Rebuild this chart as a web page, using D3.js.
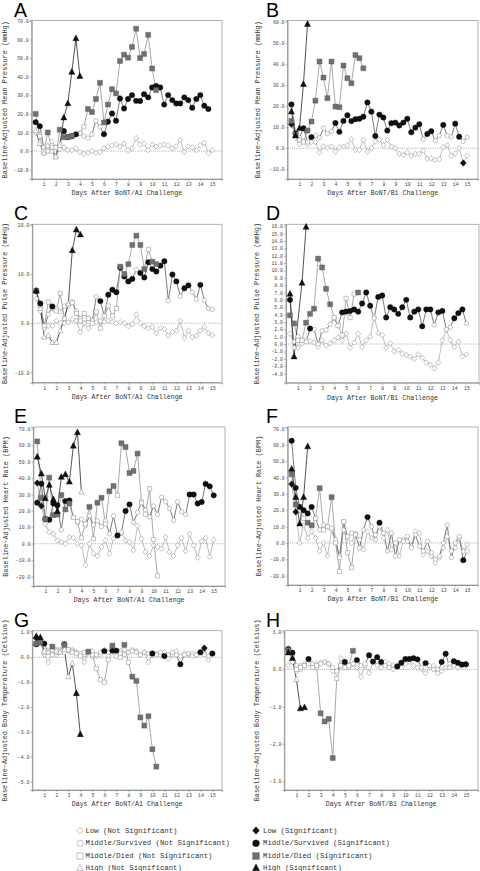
<!DOCTYPE html>
<html><head><meta charset="utf-8">
<script src="https://cdnjs.cloudflare.com/ajax/libs/d3/7.8.5/d3.min.js"></script>
<style>body{margin:0;background:#fff}svg{display:block}</style>
</head><body>
<svg id="c" width="480" height="871"></svg>
<script>
// ---------- DATA ----------
const days = [0.33,0.67,1.00,1.33,1.67,2.00,2.33,2.67,3.00,3.33,3.67,4.00,4.33,4.67,5.00,5.33,5.67,6.00,6.33,6.67,7.00,7.33,7.67,8.00,8.33,8.67,9.00,9.33,9.67,10.00,10.33,10.67,11.00,11.33,11.67,12.00,12.33,12.67,13.00,13.33,13.67,14.00,14.33,14.67,15.00];
const xTickLabels = [1,2,3,4,5,6,7,8,9,10,11,12,13,14,15];

// A: Mean pressure, BoNT/A1
const aLow  = [10,5,-1,2,5,2,1,2,0.5,0.5,1.5,-0.5,-1.5,-1,0,-1,-0.5,1.5,2.5,3,3.5,2.5,4,0.5,1.5,7,3.5,4,0.5,3.5,2.5,3,3.5,3,1.5,2.5,6,-0.5,2.5,2,0.5,3,4.5,-1,0.5];
const aLowSig = [];
const aSurv = [15.5,13.4,2,0,3,2,4,10.8,7.5,8,9,9.5,8,7,9,16.3,13,9.1,15.8,20.2,16.3,28.3,22.9,28,30.1,27,26.9,30.6,28.9,34.2,35,34.2,25,30.1,27.4,25.6,25.6,28.9,27.4,23.3,28,30.1,24.4,22.6];
const aSurvSig = [0,1,7,8,9,10,17,18,19,20,21,22,23,24,25,26,27,28,29,30,31,32,33,34,35,36,37,38,39,40,41,42,43];
const aDied = [20,8,0,10,2,-3,11.5,7.5,7.5,8,9,9.5,13,22.6,21,28,36.7,15.4,25,33.3,31,48.4,51.8,50.2,56,65.8,50,52.2,62.5,44.4,32.8];
const aDiedSig = [0,3,6,7,8,9,13,14,15,16,17,18,19,20,21,22,23,24,25,26,27,28,29,30];
const aHigh = [11,4,-1,3,0,-3,3,18,25.6,42.5,60.6,40.3];
const aHighSig = [7,8,9,10,11];

// B: Mean pressure, BoNT/B1
const bLow  = [11.4,5,2,3.5,2,3,3,-2,0.8,0.3,0.8,-1.6,0.5,0.8,1.3,4.3,-0.8,-0.8,4,-1.6,0.2,3.2,4,1.4,4,0.8,0,-2.7,-3.2,-1.9,-3.6,-2.7,-2.7,-1.1,-5,-4.8,-5.5,-5.2,0.5,1.4,-3.6,-2.5,0,-7,-3.5];
const bLowSig = [0,43];
const bSurv = [20.8,7,5,9.5,3,5.3,6,5,9.5,7,8,12,7.8,13,15.7,12.9,13.8,14,15,21.8,17.4,5.8,16,14.6,8.4,11.9,12.2,10.8,12.2,14,7.6,9.8,11.4,4.3,6.8,8.1,3.6,6,11.1,6,5.4,11.7,5.5,3.3,5.3];
const bSurvSig = [0,1,3,5,11,12,13,14,15,16,17,18,19,20,21,22,23,24,25,26,27,28,29,30,31,32,34,35,38,41,42];
const bDied = [13,6.5,4,3,8.4,12.7,22.6,41.2,33.6,23.8,41.2,19.8,19.5,39.3,33.3,30.9,44.3,42.8,38];
const bDiedSig = [0,1,4,5,6,7,8,9,10,11,12,13,14,15,16,17,18];
const bHigh = [17.4,6,9.5,30.4,59];
const bHighSig = [0,1,2,3,4];

// C: Pulse pressure, BoNT/A1
const cLow  = [5,2.5,-1,-0.5,-0.5,0.5,0,0,0.2,0.8,0.5,-1.8,0,-1,0.5,0.2,0.5,0.3,0.5,0.3,0,0.2,0,-0.6,-0.2,1.8,0,-0.6,-1,-0.8,-2,-1,-1.2,-2.5,-1.8,-1.5,0.5,-3,-1.5,-2.8,-2.5,-1.5,-0.8,-2,-2.4];
const cLowSig = [];
const cSurv = [6.5,4,-1,1.8,3.4,3,2.3,3.5,3.8,4.3,2.5,1,0,1,0.5,5.4,4.5,1.5,5.8,6.8,6.3,11.3,9.5,8.5,9,10.9,10.2,9.3,12.4,11,10.5,11.7,12.6,4.6,9.9,8.5,5.5,7.1,7.7,6.3,4.9,7.8,4.7,3,2.8];
const cSurvSig = [0,1,4,16,18,19,20,21,22,23,24,26,27,28,29,30,31,32,34,35,37,38,41];
const cDied = [6.6,3.5,-0.5,4.3,3,2.5,6.1,1,3.7,4.2,2,0.5,2,1,0,2.3,-1,1.5,3.5,1.5,3,11.5,10,12,15.9,17.8,15.9,11,15,12.5,12];
const cDiedSig = [0,21,22,23,24,25,26,27,29,30];
const cHigh = [6.6,3,-2.8,-2.5,-3.9,-3.9,-1.5,1,4,14.8,19,18];
const cHighSig = [0,9,10,11];

// D: Pulse pressure, BoNT/B1
const dLow  = [1.4,0.3,-0.5,0.1,0.5,0.4,0.2,-0.4,0.5,-0.2,0.1,0.5,0.9,0.5,1.4,-0.5,0.2,1.4,-0.4,0.5,1,3.7,1.5,1.2,-0.5,0.1,-1,-0.8,-1.3,-1.5,-1.7,-2,-1.4,-1.9,-2.5,-2.8,-3.3,-2.5,0.5,1.9,0.5,-0.4,0.3,-1.7,-1.4];
const dLowSig = [];
const dSurv = [6,-0.5,1,0.5,0.3,2.1,2,0,1.8,1.9,2.7,3.5,2.5,4.3,4.4,4.5,4.7,4.4,5.5,7,5.2,3.5,6.4,6.6,3.6,5,4.7,4.1,5,6,3.6,4.4,4.7,2.4,4.7,4.7,2.6,4.3,4.5,2,2.3,3.5,4.2,4.7,2.8];
const dSurvSig = [0,5,13,14,15,16,17,18,19,20,22,23,24,25,26,27,28,29,30,31,32,33,34,35,37,38,41,42,43];
const dDied = [3.9,2.8,0.5,0.5,2.9,4.1,4.8,11.6,10.4,7.5,5.4,3.6,2.5,1.2,6.2,3.6,6.8,7];
const dDiedSig = [0,1,4,5,6,7,8,9,10,17];
const dHigh = [6.8,-1.7,null,8.3,15.9];
const dHighSig = [0,1,3,4];

// E: Heart rate, BoNT/A1
const eLow  = [37,23,12,7,6,2,1,0,4,3.5,0,-1,-13,0,-6,-7.4,-2,2,-6,3,5,6.5,2,1,-4,11,3,-5,-7.5,-1,-2,-3,4,-5,-7.5,-1,3.5,-4.5,6,-1,-8.5,1.5,3.5,-8,2.5];
const eLowSig = [0,1];
const eSurv = [25,36.6,15,14.6,24.5,23.5,8.5,26,26.4,16,13,15,11,17,11.5,14,10.5,14,6,17,5,7,20,24,13,19,25.6,20.5,16.4,23,17.8,28.4,25.6,21.5,14.3,25.6,19.4,17.8,30,30,24.5,25.4,36.5,35,29.5];
const eSurvSig = [0,1,2,3,4,5,7,8,20,22,23,38,39,40,41,42,43,44];
const eDied = [62.4,28,15,40.3,17.4,17.8,29.7,20.9,24.5,16,13.5,3.5,12,22.5,3,25,28,12,32,35.2,29.5,61.3,59,43.1,44.4,55,25,18,33.5,2.5,-19.6];
const eDiedSig = [0,1,2,3,4,5,6,7,8,13,15,16,18,19,21,22,23,24,25];
const eHigh = [53,42.7,27.6,35.8,27,19.8,40.7,42.3,37.8,59.7,67.9,31.5];
const eHighSig = [0,1,2,3,4,5,6,7,8,9,10];

// F: Heart rate, BoNT/B1
const fLow  = [36,19,0,11,3,7,3,-5,0,-8,8,0,-8,8,3,0,6,2,-4,7,3,5,10,3,8,-4,0,-8,2,1,-2,7,6,-7,-5,-8,-12,-9,-3,4,-5,-3,3,-5,-1];
const fLowSig = [0,1];
const fSurv = [62.5,33.7,22,20,18,22,15,8,11,10,9,2,-9,13,4,6,5,-3,8,15.8,10,2,12.4,6,-5,6,-8,2,1,4,-3,5,-2,-5,1,-6,-10,-8,0,11,-9,0,4,-10.5,-5];
const fSurvSig = [0,1,2,3,4,5,19,22,43];
const fDied = [42,23.5,20,15,12.4,10.8,15,33.5,8,10,28,0,-17.4,13,-6,-15,5];
const fDiedSig = [0,1,4,5,7,10];
const fHigh = [45.2,28,11.8,28,59];
const fHighSig = [0,1,2,3,4];

// G: Body temperature, BoNT/A1
const gLow  = [0.78,0.65,0.1,-0.2,0.2,0.1,0.3,0.2,0.25,0.3,0.2,0.1,-0.2,0.2,0.25,0.05,0.1,0.3,0.05,0.2,0.1,0.25,0.3,0.2,0.3,0.25,0.1,0.2,-0.2,0.1,0.15,0.1,0.2,-0.05,0.1,0.25,0.05,0.15,0.1,0.15,0.1,0.2,0.37,-0.1,0.15];
const gLowSig = [0,1,42];
const gSurv = [0.52,0.6,0.55,0.2,0.1,0.2,0.2,0.53,0.3,0.25,0.2,0.15,0.1,0.2,0.05,0.1,0.2,0.25,0.2,0.27,0.27,0.15,0.1,0.2,0.25,0.2,0.1,0.2,0.15,0.15,0.1,0.2,0.05,0.1,0.2,0.1,-0.28,0.1,0.15,0.05,0.1,0.2,0.1,0.05,0.15];
const gSurvSig = [0,1,2,7,17,19,20,29,32,36,41,44];
const gDied = [0.55,0.6,0.2,0.25,0.43,0.3,0.25,0.5,0.3,0.2,0.15,0.05,0.2,0.23,0.1,-0.45,-0.9,-1.0,-0.1,0.47,0.05,0.0,0.5,-0.2,-0.78,-0.95,-2.42,-2.75,-2.37,-3.7,-4.4];
const gDiedSig = [0,1,4,7,13,19,22,24,25,26,27,28,29,30];
const gHigh = [0.85,0.8,0.25,0.2,0.3,0.25,0.2,0.3,-0.78,-0.24,-1.45,-3.1];
const gHighSig = [0,1,10,11];

// H: Body temperature, BoNT/B1
const hLow  = [0.1,0.2,-0.05,0.1,0.15,0.2,0.1,0.15,0.18,0.2,0.15,-0.05,-0.1,0.3,0.05,0.1,0.15,0.05,-0.2,0.1,-0.1,0.2,0.1,0.05,0.2,0.15,0.0,0.1,0.05,0.15,0.2,0.1,0.05,0.0,-0.1,0.05,0.1,0.0,-0.05,0.05,0.15,0.1,0.05,0.1,0.1];
const hLowSig = [];
const hSurv = [0.55,0.45,0.1,0.0,0.1,0.28,0.15,0.05,0.15,0.2,0.15,0.05,-0.05,0.12,0.2,0.05,0.15,0.25,0.1,0.15,0.38,0.21,0.33,0.2,0.1,0.05,0.12,0.08,0.18,0.28,0.28,0.3,0.27,0.05,0.17,0.1,0.0,-0.1,0.2,0.42,0.05,0.22,0.18,0.13,0.14];
const hSurvSig = [0,1,5,14,17,20,21,22,23,27,28,29,30,31,32,34,38,39,41,42,43,44];
const hDied = [0.52,0.35,0.0,0.05,0.1,0.15,0.05,0.1,-1.18,-1.4,-1.33,-2.38,-0.24,0.1,0.05,0.1,0.5];
const hDiedSig = [0,8,9,10,11,16];
const hHigh = [0.45,0.3,-0.27,-1.05,-1.02];
const hHighSig = [0,1,3,4];

// tick labels (y)
const aTicks = [-10,0,10,20,30,40,50,60,70];
const bTicks = [-10,0,10,20,30,40,50,60];
const cTicks = [-10,0,10,20];
const dTicks = [-4,-3,-2,-1,0,1,2,3,4,5,6,7,8,9,10,11,12,13,14,15,16];
const eTicks = [-20,-10,0,10,20,30,40,50,60,70];
const fTicks = [-20,-10,0,10,20,30,40,50,60,70];
const gTicks = [-5,-4,-3,-2,-1,0,1];
const hTicks = [-3,-2,-1,0,1];

const titlesY = ["Baseline\u2212Adjusted Mean Pressure (mmHg)","Baseline\u2212Adjusted Pulse Pressure (mmHg)","Baseline\u2212Adjusted Heart Rate (BPM)","Baseline\u2212Adjusted Body Temperature (Celsius)"];
const titlesX = ["Days After BoNT/A1 Challenge","Days After BoNT/B1 Challenge"];
const legendLabels = ["Low (Not Significant)","Middle/Survived (Not Significant)","Middle/Died (Not Significant)","High (Not Significant)","Low (Significant)","Middle/Survived (Significant)","Middle/Died (Significant)","High (Significant)"];

// ---------- LAYOUT ----------
const FONT = '"Liberation Mono","DejaVu Sans Mono",monospace';
const panels = [
 {k:'A',L:31.7,T:20.5,R:222,B:179,xMax:15.8,yD:[-15,70.2],ticks:aTicks,yt:0,xt:0,ytx:5,xty:195,lx:14,ly:17,
  d:{low:aLow,lowSig:aLowSig,surv:aSurv,survSig:aSurvSig,died:aDied,diedSig:aDiedSig,high:aHigh,highSig:aHighSig}},
 {k:'B',L:287.5,T:20.5,R:478,B:179,xMax:15.9,yD:[-14.6,60.7],ticks:bTicks,yt:0,xt:1,ytx:258,xty:195,lx:266,ly:17,
  d:{low:bLow,lowSig:bLowSig,surv:bSurv,survSig:bSurvSig,died:bDied,diedSig:bDiedSig,high:bHigh,highSig:bHighSig}},
 {k:'C',L:32.3,T:224.3,R:222,B:382.5,xMax:15.8,yD:[-12.03,20.1],ticks:cTicks,yt:1,xt:0,ytx:5,xty:399,lx:14,ly:220,
  d:{low:cLow,lowSig:cLowSig,surv:cSurv,survSig:cSurvSig,died:cDied,diedSig:cDiedSig,high:cHigh,highSig:cHighSig}},
 {k:'D',L:286,T:224.3,R:479,B:382.7,xMax:16.05,yD:[-5.25,16.26],ticks:dTicks,yt:1,xt:1,ytx:257,xty:399.5,lx:266,ly:220,
  d:{low:dLow,lowSig:dLowSig,surv:dSurv,survSig:dSurvSig,died:dDied,diedSig:dDiedSig,high:dHigh,highSig:dHighSig}},
 {k:'E',L:33.3,T:427,R:225,B:586,xMax:15.94,yD:[-25.8,71.2],ticks:eTicks,yt:2,xt:0,ytx:6,xty:601.5,lx:14,ly:423,
  d:{low:eLow,lowSig:eLowSig,surv:eSurv,survSig:eSurvSig,died:eDied,diedSig:eDiedSig,high:eHigh,highSig:eHighSig}},
 {k:'F',L:287.7,T:427,R:478,B:585,xMax:15.9,yD:[-25.7,70.9],ticks:fTicks,yt:2,xt:1,ytx:259,xty:600.5,lx:266,ly:423,
  d:{low:fLow,lowSig:fLowSig,surv:fSurv,survSig:fSurvSig,died:fDied,diedSig:fDiedSig,high:fHigh,highSig:fHighSig}},
 {k:'G',L:32.3,T:630.7,R:222,B:790,xMax:15.8,yD:[-5.34,1.07],ticks:gTicks,yt:3,xt:0,ytx:5,xty:805.5,lx:14,ly:627,
  d:{low:gLow,lowSig:gLowSig,surv:gSurv,survSig:gSurvSig,died:gDied,diedSig:gDiedSig,high:gHigh,highSig:gHighSig}},
 {k:'H',L:284.3,T:630.7,R:478,B:790,xMax:16.0,yD:[-3.24,1.04],ticks:hTicks,yt:3,xt:1,ytx:257,xty:805.5,lx:266,ly:627,
  d:{low:hLow,lowSig:hLowSig,surv:hSurv,survSig:hSurvSig,died:hDied,diedSig:hDiedSig,high:hHigh,highSig:hHighSig}}
];

const series = [
 {key:'low',shape:'diamond',line:'#a8a8a8',fill:'#111'},
 {key:'surv',shape:'circle',line:'#505050',fill:'#111'},
 {key:'died',shape:'square',line:'#8c8c8c',fill:'#707070'},
 {key:'high',shape:'triangle',line:'#1a1a1a',fill:'#111'}
];

function shapePath(shape, s){
  switch(shape){
    case 'diamond': return `M0,${-s*1.1}L${s},0L0,${s*1.1}L${-s},0Z`;
    case 'square': return `M${-s},${-s}h${2*s}v${2*s}h${-2*s}Z`;
    case 'triangle': return `M0,${-s*1.2}L${s*1.05},${s*0.8}L${-s*1.05},${s*0.8}Z`;
    default: return `M${s},0A${s},${s} 0 1,1 ${-s},0A${s},${s} 0 1,1 ${s},0Z`;
  }
}
const sizeFilled = {diamond:3,circle:2.7,square:2.5,triangle:2.9};
const sizeHollow = {diamond:2.5,circle:2.2,square:2.1,triangle:2.5};

const svg = d3.select('#c');

panels.forEach(p=>{
  const x = d3.scaleLinear().domain([0,p.xMax]).range([p.L,p.R]);
  const y = d3.scaleLinear().domain(p.yD).range([p.B,p.T]);
  const g = svg.append('g');

  g.append('rect').attr('x',p.L).attr('y',p.T).attr('width',p.R-p.L).attr('height',p.B-p.T)
    .attr('fill','none').attr('stroke','#a0a0a0').attr('stroke-width',0.8);
  g.append('line').attr('x1',p.L).attr('x2',p.R).attr('y1',y(0)).attr('y2',y(0))
    .attr('stroke','#888').attr('stroke-width',0.7).attr('stroke-dasharray','1,1.2');

  const ya = g.append('g').attr('transform',`translate(${p.L},0)`)
    .call(d3.axisLeft(y).tickValues(p.ticks).tickSize(2).tickPadding(1).tickFormat(d3.format('.1f')));
  const xa = g.append('g').attr('transform',`translate(0,${p.B})`)
    .call(d3.axisBottom(x).tickValues(xTickLabels).tickSize(2).tickPadding(2).tickFormat(d3.format('d')));
  [ya,xa].forEach(a=>{
    a.select('.domain').attr('stroke','#888').attr('stroke-width',0.8);
    a.selectAll('.tick line').attr('stroke','#888').attr('stroke-width',0.6);
    a.selectAll('.tick text').attr('font-family',FONT).attr('font-size',4.8).attr('fill','#444');
  });

  g.append('text').attr('x',(p.L+p.R)/2).attr('y',p.xty).attr('text-anchor','middle')
    .attr('font-family',FONT).attr('font-size',6.6).attr('fill','#333').text(titlesX[p.xt]);
  g.append('text').attr('transform',`translate(${p.ytx},${(p.T+p.B)/2}) rotate(-90)`)
    .attr('text-anchor','middle').attr('dominant-baseline','central')
    .attr('font-family',FONT).attr('font-size',6.9).attr('fill','#333').text(titlesY[p.yt]);
  g.append('text').attr('x',p.lx).attr('y',p.ly).attr('font-family','"Liberation Sans",Arial,sans-serif')
    .attr('font-size',19.5).attr('fill','#000').text(p.k);

  const pts = {};
  series.forEach(s=>{
    const vals = p.d[s.key], sig = p.d[s.key+'Sig'];
    pts[s.key] = vals.map((v,i)=>({x:days[i],y:v,sig:sig.includes(i)})).filter(d=>d.y!==null);
  });
  const line = d3.line().x(d=>x(d.x)).y(d=>y(d.y));
  series.forEach(s=>{
    g.append('path').datum(pts[s.key]).attr('d',line).attr('fill','none')
      .attr('stroke',s.line).attr('stroke-width',0.75);
  });
  series.forEach(s=>{
    g.selectAll(null).data(pts[s.key].filter(d=>!d.sig)).join('path')
      .attr('transform',d=>`translate(${x(d.x)},${y(d.y)})`)
      .attr('d',shapePath(s.shape,sizeHollow[s.shape]))
      .attr('fill','#fff').attr('stroke','#9a9a9a').attr('stroke-width',0.6);
  });
  series.forEach(s=>{
    g.selectAll(null).data(pts[s.key].filter(d=>d.sig)).join('path')
      .attr('transform',d=>`translate(${x(d.x)},${y(d.y)})`)
      .attr('d',shapePath(s.shape,sizeFilled[s.shape]))
      .attr('fill',s.fill).attr('stroke',s.key==='died'?'#555':'#000').attr('stroke-width',0.4);
  });
});

// ---------- LEGEND ----------
const legRows = [830.5,843.3,856,868];
const leg = svg.append('g');
legendLabels.forEach((lab,i)=>{
  const col = i<4?0:1, row = i%4;
  const s = series[row];
  const sx = col===0?80:256, tx = col===0?85.5:263;
  const cy = legRows[row];
  leg.append('path').attr('transform',`translate(${sx},${cy})`)
    .attr('d',shapePath(s.shape,col===0?3.1:3.4))
    .attr('fill',col===0?'#fff':s.fill).attr('stroke',col===0?'#999':(row===2?'#555':'#000')).attr('stroke-width',col===0?0.6:0.4);
  leg.append('text').attr('x',tx).attr('y',cy).attr('dominant-baseline','central')
    .attr('font-family',FONT).attr('font-size',7.3).attr('fill','#333').text(lab);
});
</script>
</body></html>
